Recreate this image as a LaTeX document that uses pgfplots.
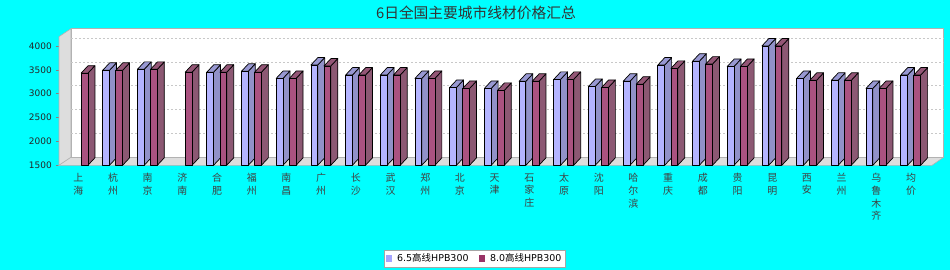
\documentclass[border=0pt]{standalone}
\usepackage{pgfplots}
\pgfplotsset{compat=1.18}
\usepackage{pgfplotstable}
\usepackage{fontspec}
\setmainfont{DejaVu Sans}
\newfontfamily\cjk{Noto Sans CJK SC}

\definecolor{bg}{RGB}{0,255,255}
\definecolor{blueF}{RGB}{180,180,255}
\definecolor{blueS}{RGB}{145,145,200}
\definecolor{blueT}{RGB}{152,152,210}
\definecolor{redF}{RGB}{170,82,128}
\definecolor{redS}{RGB}{140,88,115}
\definecolor{redT}{RGB}{148,86,118}
\definecolor{redL}{RGB}{153,51,102}
\definecolor{blueL}{RGB}{165,165,255}
\definecolor{wall}{RGB}{221,221,221}
\definecolor{gridc}{RGB}{200,200,200}

% a = 6.5 HPB300, b = 8.0 HPB300
\pgfplotstableread{
idx a b
0 nan 3430
1 3490 3490
2 3510 3510
3 nan 3450
4 3450 3450
5 3470 3450
6 3320 3320
7 3600 3580
8 3390 3390
9 3390 3390
10 3320 3320
11 3130 3110
12 3110 3070
13 3260 3260
14 3300 3300
15 3150 3130
16 3260 3200
17 3600 3530
18 3680 3620
19 3570 3570
20 4000 4000
21 3320 3280
22 3280 3280
23 3110 3110
24 3390 3390
}\data

\def\nanstr{nan}
\def\dxu{0.2017}
\def\dyu{157}
\newcommand\drawbar[7]{%
 \edef\tmpv{#2}%
 \ifx\tmpv\nanstr\else
  \pgfmathsetmacro\xa{#1+#3}%
  \pgfmathsetmacro\xb{#1+#4}%
  \pgfmathsetmacro\xc{\xa+\dxu}%
  \pgfmathsetmacro\xd{\xb+\dxu}%
  \pgfmathsetmacro\vt{#2+\dyu}%
  \pgfmathsetmacro\bt{1500+\dyu}%
  \edef\temp{%
   \noexpand\addplot[forget plot,fill=#6,draw=black,line width=0.7bp,line join=round] coordinates {(\xb,1500) (\xb,\tmpv) (\xd,\vt) (\xd,\bt)} -- cycle;
   \noexpand\addplot[forget plot,fill=#7,draw=black,line width=0.7bp,line join=round] coordinates {(\xa,\tmpv) (\xb,\tmpv) (\xd,\vt) (\xc,\vt)} -- cycle;
   \noexpand\addplot[forget plot,fill=#5,draw=black,line width=0.7bp,line join=round] coordinates {(\xa,1500) (\xa,\tmpv) (\xb,\tmpv) (\xb,1500)} -- cycle;
  }%
  \temp
 \fi
}

\begin{document}
\begin{tikzpicture}
\fill[bg] (0bp,0bp) rectangle (950bp,270bp);
\begin{axis}[
  at={(59bp,104.7bp)}, anchor=south west,
  scale only axis, width=873bp, height=128.65bp,
  xmin=-0.556, xmax=24.605, ymin=1500, ymax=4195,
  clip=false,
  axis line style={draw=none},
  xtick={0,...,24},
  xticklabels={{上\\海},{杭\\州},{南\\京},{济\\南},{合\\肥},{福\\州},{南\\昌},{广\\州},{长\\沙},{武\\汉},{郑\\州},{北\\京},{天\\津},{石\\家\\庄},{太\\原},{沈\\阳},{哈\\尔\\滨},{重\\庆},{成\\都},{贵\\阳},{昆\\明},{西\\安},{兰\\州},{乌\\鲁\\木\\齐},{均\\价}},
  ytick={1500,2000,2500,3000,3500,4000},
  xtick pos=bottom, ytick pos=left,
  tick align=outside, major tick length=3bp,
  xtick style={draw=none},
  ytick style={draw=gray, line width=0.6bp},
  xticklabel style={font=\cjk\fontsize{10}{12.7}\selectfont, align=center, text=black!75, inner sep=0pt, anchor=north, yshift=-5bp},
  yticklabel style={font=\fontsize{9}{10}\selectfont, text=black!85, inner sep=0pt, xshift=-4bp},
  /pgf/number format/assume math mode=true,
  /pgf/number format/1000 sep={},
  legend columns=2,
  legend style={at={(0.476,-0.7245)}, anchor=center, draw=gray!70, fill=white,
    font=\fontsize{9.5}{11}\selectfont, inner sep=1.5bp,
    /tikz/every even column/.append style={column sep=8bp}},
  legend image code/.code={\fill[#1] (0bp,-3bp) rectangle (6.5bp,3.5bp);},
]
\addlegendimage{fill=blueL, draw=none}
\addlegendentry{\hspace{3bp}6.5{\cjk 高线}HPB300}
\addlegendimage{fill=redL, draw=none}
\addlegendentry{\hspace{3bp}8.0{\cjk 高线}HPB300}

% walls
\fill[wall, draw=gray!60, line width=0.6bp] (rel axis cs:0,0) -- (rel axis cs:0,1) -- ([shift={(12bp,8bp)}]rel axis cs:0,1) -- ([shift={(12bp,8bp)}]rel axis cs:0,0) -- cycle;
\fill[wall, draw=gray!60, line width=0.6bp] (rel axis cs:0,0) -- (rel axis cs:1,0) -- ([shift={(11.5bp,8bp)}]rel axis cs:1,0) -- ([shift={(12bp,8bp)}]rel axis cs:0,0) -- cycle;
\fill[white, draw=gray!60, line width=0.6bp] ([shift={(12bp,8bp)}]rel axis cs:0,0) rectangle ([shift={(11.5bp,8bp)}]rel axis cs:1,1);
\pgfplotsinvokeforeach{2000,2500,3000,3500,4000}{
  \draw[gridc, line width=0.6bp, dash pattern=on 2bp off 2bp] ([shift={(12bp,8bp)}]axis cs:-0.556,#1) -- ([shift={(11.5bp,8bp)}]axis cs:24.605,#1);
}

\pgfplotsforeachungrouped \i in {0,...,24}{%
  \pgfplotstablegetelem{\i}{a}\of\data \let\va\pgfplotsretval
  \pgfplotstablegetelem{\i}{b}\of\data \let\vb\pgfplotsretval
  \drawbar{\i}{\va}{-0.297}{-0.101}{blueF}{blueS}{blueT}%
  \drawbar{\i}{\vb}{0.081}{0.277}{redF}{redS}{redT}%
}
\end{axis}
\node[font=\cjk\fontsize{14.8}{16}\selectfont, text=black!80] at (476bp,257bp) {6日全国主要城市线材价格汇总};
\pgfresetboundingbox
\useasboundingbox (0bp,0bp) rectangle (950bp,270bp);
\end{tikzpicture}
\end{document}
